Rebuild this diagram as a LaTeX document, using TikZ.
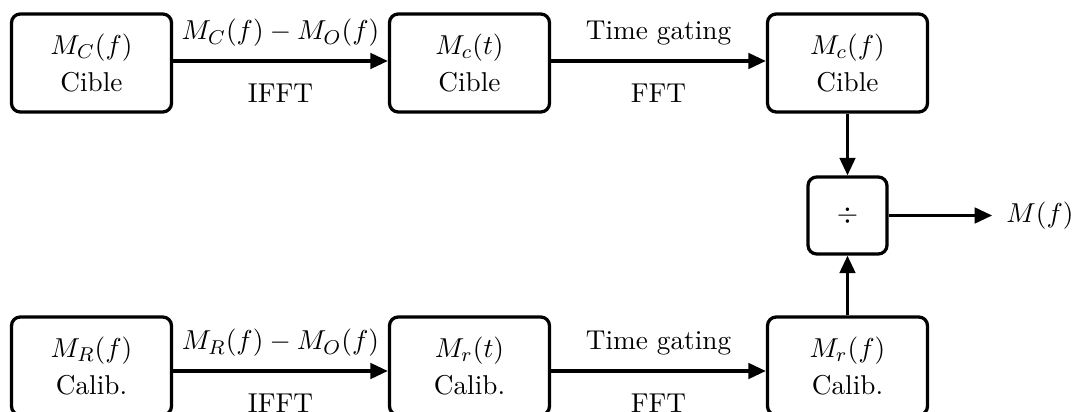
\documentclass[tikz,border=0pt]{standalone}
\usetikzlibrary{arrows.meta}
\begin{document}
\begin{tikzpicture}[x=0.4pt,y=-0.4pt,
  every node/.style={font=\fontsize{10.9}{13}\selectfont},
  blk/.style={draw, line width=1.3pt, rounded corners=3.5pt, minimum width=64pt,
    minimum height=39.2pt, align=center, inner sep=0pt},
  opbox/.style={draw, line width=1.3pt, rounded corners=3.5pt, minimum width=31.6pt,
    minimum height=30.8pt, inner sep=0pt},
  flow/.style={line width=1.3pt, -{Triangle[length=7pt,width=6.2pt]}},
  toplbl/.style={midway, yshift=11.2pt},
  botlbl/.style={midway, yshift=-13pt}]
\useasboundingbox (0,0) rectangle (1075,412);

\node[blk] (c1) at (91.5,63)  {$M_C(f)$\\[2pt] Cible};
\node[blk] (c2) at (469.5,63) {$M_c(t)$\\[2pt] Cible};
\node[blk] (c3) at (847.5,63) {$M_c(f)$\\[2pt] Cible};

\node[blk] (r1) at (91.5,366)  {$M_R(f)$\\[2pt] Calib.};
\node[blk] (r2) at (469.5,366) {$M_r(t)$\\[2pt] Calib.};
\node[blk] (r3) at (847.5,366) {$M_r(f)$\\[2pt] Calib.};

\node[opbox] (dv) at (847.5,215.5) {$\div$};
\node[inner xsep=5.5pt] (out) at (1040,215.5) {$M(f)$};

\draw[flow] ([yshift=0.8pt]c1.east) -- ([yshift=0.8pt]c2.west)
  node[toplbl] {$M_C(f)-M_O(f)$} node[botlbl] {IFFT};
\draw[flow] ([yshift=0.8pt]c2.east) -- ([yshift=0.8pt]c3.west)
  node[toplbl] {Time gating} node[botlbl] {FFT};

\draw[flow] ([yshift=-2pt]r1.east) -- ([yshift=-2pt]r2.west)
  node[toplbl] {$M_R(f)-M_O(f)$} node[botlbl] {IFFT};
\draw[flow] ([yshift=-2pt]r2.east) -- ([yshift=-2pt]r3.west)
  node[toplbl] {Time gating} node[botlbl] {FFT};

\draw[flow] (c3.south) -- (dv.north);
\draw[flow] (r3.north) -- (dv.south);
\draw[flow] (dv.east) -- (out.west);
\end{tikzpicture}
\end{document}
